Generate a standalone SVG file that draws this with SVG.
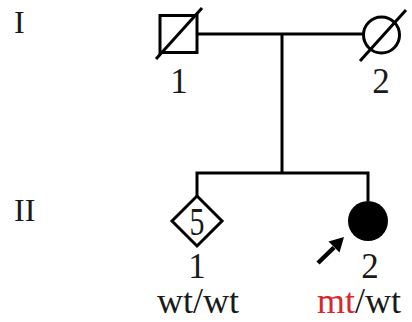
<svg xmlns="http://www.w3.org/2000/svg" width="412" height="322" viewBox="0 0 412 322">
  <style>
    .ln { stroke: #000; stroke-width: 3; fill: none; }
    .sym { stroke: #000; stroke-width: 3; fill: #fff; }
    .txt { font-family: "Liberation Serif", "Times New Roman", serif; fill: #1a1a1a; }
    .num { font-size: 35px; text-anchor: middle; }
    .gen { font-size: 32px; }
    .geno { font-size: 36px; }
    .mut { fill: #d8282d; }
  </style>
  <rect width="412" height="322" fill="#fff"/>

  <!-- generation labels -->
  <text class="txt gen" x="14" y="33">I</text>
  <text class="txt gen" x="14" y="221">II</text>

  <!-- connectors -->
  <g id="connectors">
    <line class="ln" x1="197" y1="34" x2="363" y2="34"/>
    <line class="ln" x1="282" y1="34" x2="282" y2="173"/>
    <polyline class="ln" points="197,196 197,173 368,173 368,201"/>
  </g>

  <!-- I-1: deceased male -->
  <g id="I-1">
    <rect class="sym" x="160" y="15.5" width="37" height="37"/>
    <line class="ln" x1="156" y1="59" x2="202" y2="8"/>
    <text class="txt num" x="179" y="93">1</text>
  </g>

  <!-- I-2: deceased female -->
  <g id="I-2">
    <circle class="sym" cx="381.5" cy="35" r="18"/>
    <line class="ln" x1="360" y1="61" x2="406" y2="10"/>
    <text class="txt num" x="381" y="93">2</text>
  </g>

  <!-- II-1: five individuals, sex unspecified -->
  <g id="II-1">
    <polygon class="sym" points="197,196 222,221 197,246 172,221"/>
    <text class="txt" font-size="40" text-anchor="middle" transform="translate(197,235) scale(0.75,1)">5</text>
    <text class="txt num" x="197" y="278">1</text>
    <text class="txt geno" x="157" y="313">wt/wt</text>
  </g>

  <!-- II-2: affected female, proband -->
  <g id="II-2">
    <circle cx="368" cy="221" r="20" fill="#000"/>
    <line stroke="#000" stroke-width="4.5" x1="318" y1="263" x2="334" y2="247.5"/>
    <polygon points="344,237 339.5,252.5 328.5,241.5" fill="#000"/>
    <text class="txt num" x="370" y="278">2</text>
    <text class="txt geno" x="317" y="313"><tspan class="mut">mt</tspan>/wt</text>
  </g>
</svg>
